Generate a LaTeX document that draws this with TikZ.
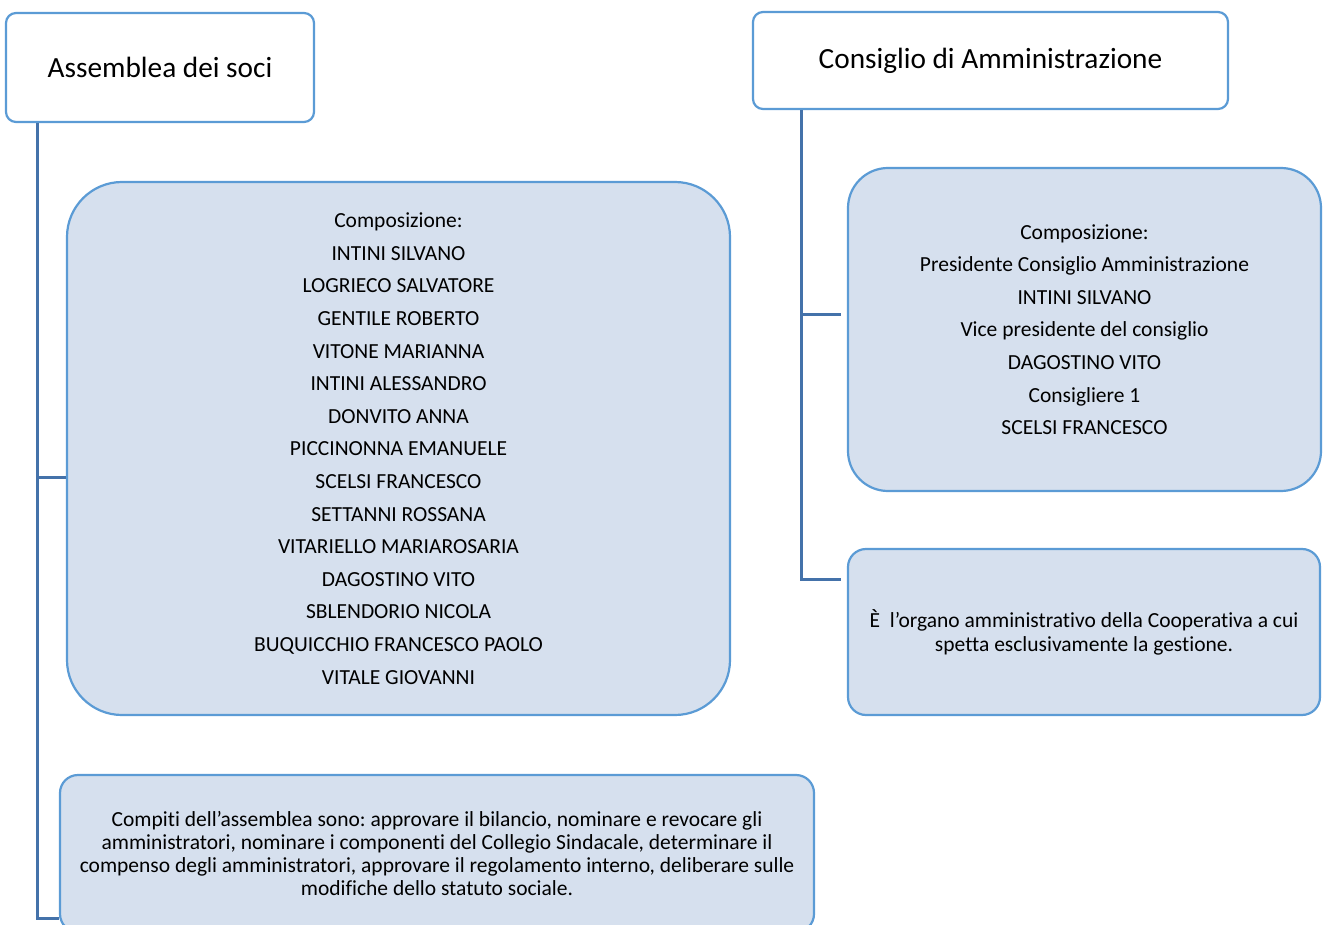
\documentclass[tikz,border=0pt]{standalone}
\usepackage{fontspec}
\setmainfont{Carlito}[Ligatures={NoCommon}]
\frenchspacing
\definecolor{bordc}{RGB}{91,155,213}
\definecolor{connc}{RGB}{68,114,170}
\definecolor{fillc}{RGB}{214,224,238}
\begin{document}
\begin{tikzpicture}[x=1pt,y=-1pt,
  titlebox/.style={draw=bordc,line width=2.2pt,fill=white,rounded corners=10pt,inner sep=0pt,font={\fontsize{29.3}{34}\selectfont}},
  infobox/.style={draw=bordc,line width=2.2pt,fill=fillc,inner sep=0pt,align=center},
  conn/.style={draw=connc,line width=3pt}]
\useasboundingbox (0,0) rectangle (1328,925);
% title boxes
\node[titlebox,minimum width=308pt,minimum height=109pt] (asm) at (160,67.5) {Assemblea dei soci};
\node[titlebox,minimum width=475pt,minimum height=97pt] (cda) at (990.5,60.5) {Consiglio di Amministrazione};
% info boxes
\node[infobox,rounded corners=55pt,minimum width=663pt,minimum height=533pt,font={\fontsize{21.5}{32.6}\selectfont}] (comp1) at (398.5,448.5)
 {Composizione:\\INTINI SILVANO\\LOGRIECO SALVATORE\\GENTILE ROBERTO\\VITONE MARIANNA\\INTINI ALESSANDRO\\DONVITO ANNA\\PICCINONNA EMANUELE\\SCELSI FRANCESCO\\SETTANNI ROSSANA\\VITARIELLO MARIAROSARIA\\DAGOSTINO VITO\\SBLENDORIO NICOLA\\BUQUICCHIO FRANCESCO PAOLO\\VITALE GIOVANNI};
\node[infobox,rounded corners=18pt,minimum width=754pt,minimum height=157pt,font={\fontsize{21.5}{23}\selectfont}] (compiti) at (437,853.5)
 {Compiti dell’assemblea sono: approvare il bilancio, nominare e revocare gli\\amministratori, nominare i componenti del Collegio Sindacale, determinare il\\compenso degli amministratori, approvare il regolamento interno, deliberare sulle\\modifiche dello statuto sociale.};
\node[infobox,rounded corners=40pt,minimum width=473pt,minimum height=323pt,font={\fontsize{21.5}{32.6}\selectfont}] (comp2) at (1084.5,329.5)
 {Composizione:\\Presidente Consiglio Amministrazione\\INTINI SILVANO\\Vice presidente del consiglio\\DAGOSTINO VITO\\Consigliere 1\\SCELSI FRANCESCO};
\node[infobox,rounded corners=18pt,minimum width=472pt,minimum height=166pt,font={\fontsize{21.5}{24}\selectfont}] (ruolo) at (1084,632)
 {È\ \ l’organo amministrativo della Cooperativa a cui\\spetta esclusivamente la gestione.};
% trunks
\coordinate (trunkL) at (37,0);
\coordinate (trunkR) at (801,0);
% connectors
\draw[conn] (asm.south -| trunkL) |- ([yshift=-28.5pt]comp1.west);
\draw[conn] (asm.south -| trunkL) |- ([yshift=-64.5pt]compiti.west);
\draw[conn] (cda.south -| trunkR) |- ([xshift=-6pt,yshift=14.5pt]comp2.west);
\draw[conn] (cda.south -| trunkR) |- ([xshift=-6pt,yshift=53pt]ruolo.west);
\end{tikzpicture}
\end{document}
